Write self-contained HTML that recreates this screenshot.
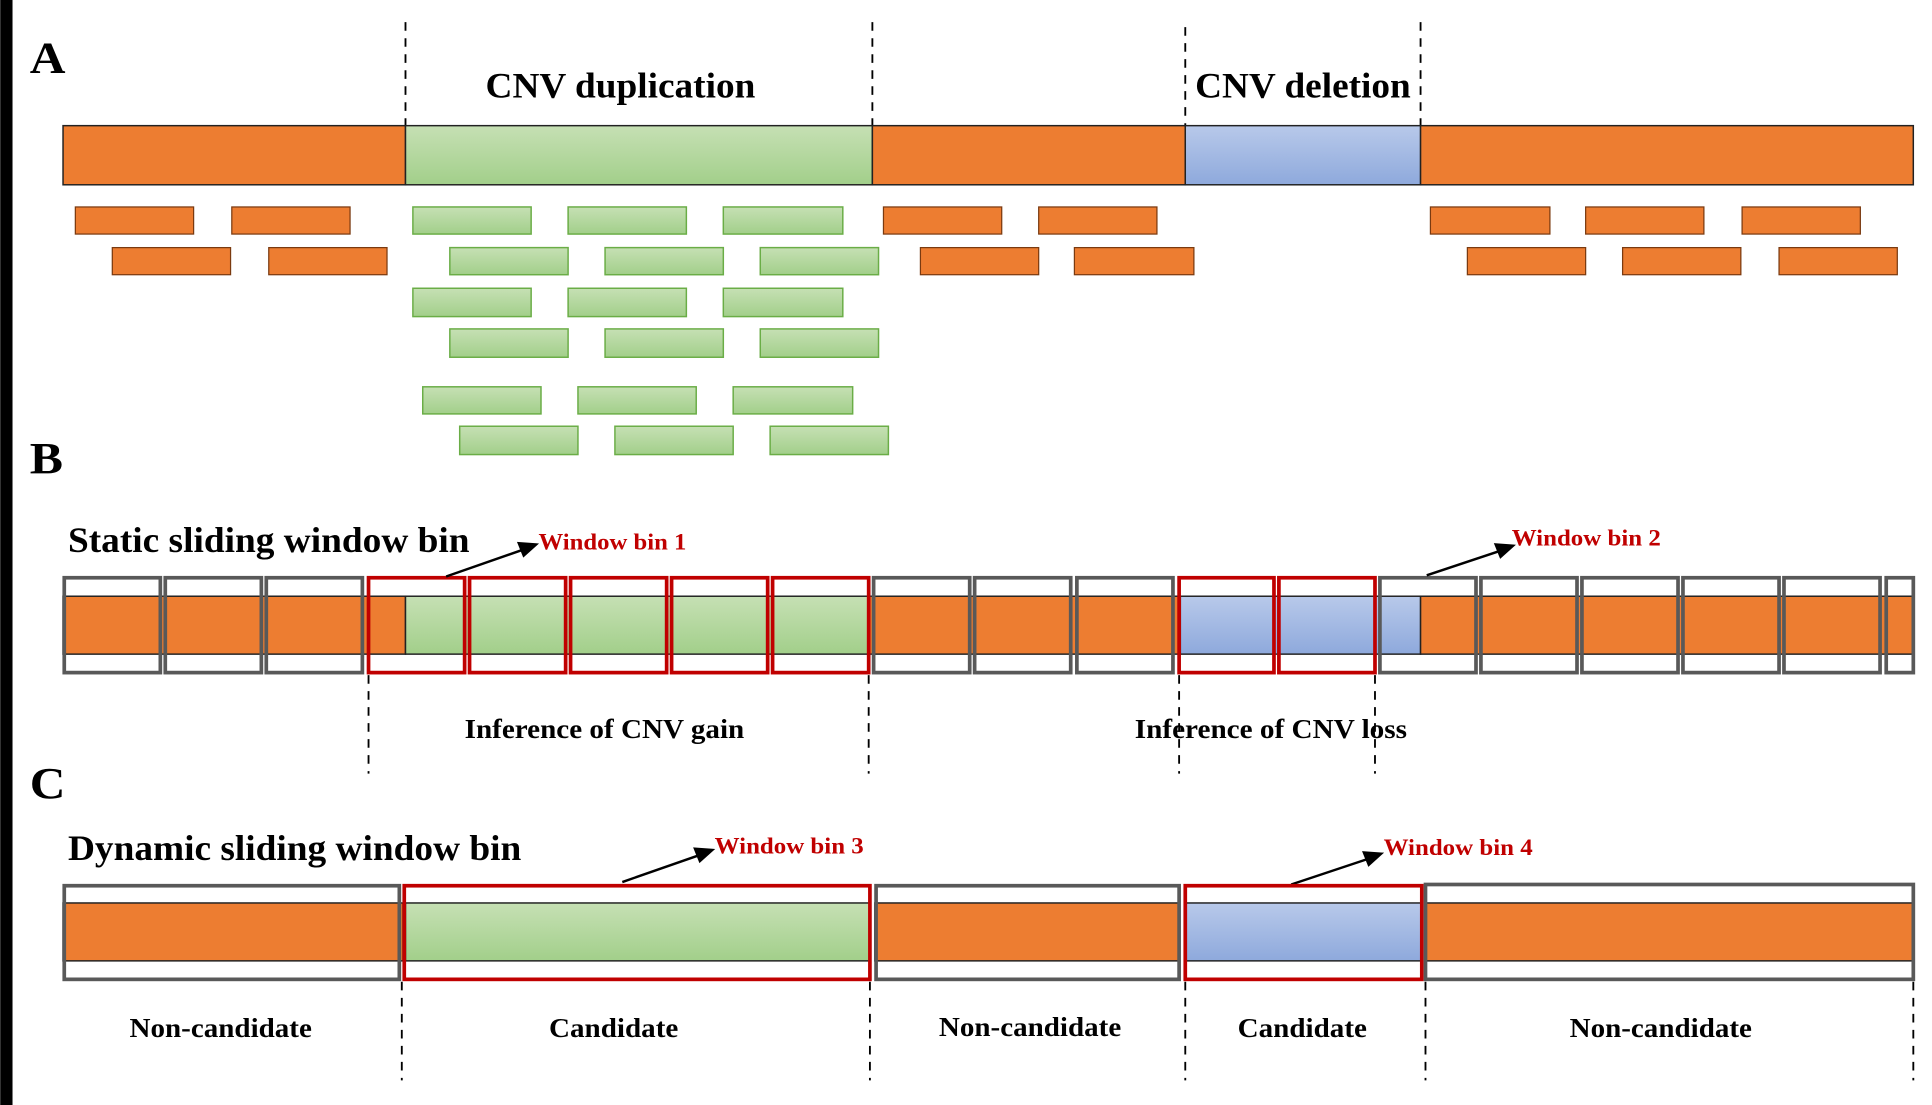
<!DOCTYPE html>
<html><head><meta charset="utf-8"><style>
html,body{margin:0;padding:0;background:#fff;}
svg{display:block;}
text{font-family:"Liberation Serif",serif;font-weight:bold;}
</style></head><body>
<svg width="1932" height="1105" viewBox="0 0 1568 897" xmlns="http://www.w3.org/2000/svg">
<defs>
<linearGradient id="g" x1="0" y1="0" x2="0" y2="1"><stop offset="0" stop-color="#c6e0b4"/><stop offset="1" stop-color="#a2cf8a"/></linearGradient>
<linearGradient id="b" x1="0" y1="0" x2="0" y2="1"><stop offset="0" stop-color="#b8c9ea"/><stop offset="1" stop-color="#8ea9dc"/></linearGradient>
</defs>
<rect x="0" y="0" width="10" height="897" fill="#000"/>
<!-- A -->
<text x="24" y="59" font-size="36" textLength="29" lengthAdjust="spacingAndGlyphs">A</text>
<text x="394" y="79" font-size="29" textLength="219" lengthAdjust="spacingAndGlyphs">CNV duplication</text>
<text x="970" y="79" font-size="29" textLength="175" lengthAdjust="spacingAndGlyphs">CNV deletion</text>
<g stroke="#000" stroke-width="1.5" stroke-dasharray="7,6">
<line x1="329" y1="18" x2="329" y2="102"/><line x1="708" y1="18" x2="708" y2="102"/>
<line x1="962" y1="22" x2="962" y2="102"/><line x1="1153" y1="18" x2="1153" y2="102"/>
</g>
<g stroke="#222" stroke-width="1.2">
<rect x="51" y="102" width="278" height="48" fill="#ed7d31"/>
<rect x="329" y="102" width="379" height="48" fill="url(#g)"/>
<rect x="708" y="102" width="254" height="48" fill="#ed7d31"/>
<rect x="962" y="102" width="191" height="48" fill="url(#b)"/>
<rect x="1153" y="102" width="400" height="48" fill="#ed7d31"/>
</g>
<g fill="#ed7d31" stroke="#7a3a10" stroke-width="1">
<rect x="61" y="168" width="96" height="22"/><rect x="188" y="168" width="96" height="22"/>
<rect x="717" y="168" width="96" height="22"/><rect x="843" y="168" width="96" height="22"/>
<rect x="1161" y="168" width="97" height="22"/><rect x="1287" y="168" width="96" height="22"/><rect x="1414" y="168" width="96" height="22"/>
<rect x="91" y="201" width="96" height="22"/><rect x="218" y="201" width="96" height="22"/>
<rect x="747" y="201" width="96" height="22"/><rect x="872" y="201" width="97" height="22"/>
<rect x="1191" y="201" width="96" height="22"/><rect x="1317" y="201" width="96" height="22"/><rect x="1444" y="201" width="96" height="22"/>
</g>
<g fill="url(#g)" stroke="#6aad46" stroke-width="1.2">
<rect x="335" y="168" width="96" height="22"/><rect x="461" y="168" width="96" height="22"/><rect x="587" y="168" width="97" height="22"/>
<rect x="365" y="201" width="96" height="22"/><rect x="491" y="201" width="96" height="22"/><rect x="617" y="201" width="96" height="22"/>
<rect x="335" y="234" width="96" height="23"/><rect x="461" y="234" width="96" height="23"/><rect x="587" y="234" width="97" height="23"/>
<rect x="365" y="267" width="96" height="23"/><rect x="491" y="267" width="96" height="23"/><rect x="617" y="267" width="96" height="23"/>
<rect x="343" y="314" width="96" height="22"/><rect x="469" y="314" width="96" height="22"/><rect x="595" y="314" width="97" height="22"/>
<rect x="373" y="346" width="96" height="23"/><rect x="499" y="346" width="96" height="23"/><rect x="625" y="346" width="96" height="23"/>
</g>
<!-- B -->
<text x="24" y="384" font-size="36" textLength="27" lengthAdjust="spacingAndGlyphs">B</text>
<text x="55" y="448" font-size="29" textLength="326" lengthAdjust="spacingAndGlyphs">Static sliding window bin</text>
<g stroke="#222" stroke-width="1.2">
<rect x="51" y="484" width="278" height="47" fill="#ed7d31"/>
<rect x="329" y="484" width="376" height="47" fill="url(#g)"/>
<rect x="705" y="484" width="253" height="47" fill="#ed7d31"/>
<rect x="958" y="484" width="195" height="47" fill="url(#b)"/>
<rect x="1153" y="484" width="400" height="47" fill="#ed7d31"/>
</g>
<g fill="none" stroke="#595959" stroke-width="3">
<rect x="52" y="469" width="78" height="77"/><rect x="134" y="469" width="78" height="77"/><rect x="216" y="469" width="78" height="77"/>
<rect x="709" y="469" width="78" height="77"/><rect x="791" y="469" width="78" height="77"/><rect x="874" y="469" width="78" height="77"/>
<rect x="1120" y="469" width="78" height="77"/><rect x="1202" y="469" width="78" height="77"/><rect x="1284" y="469" width="78" height="77"/>
<rect x="1366" y="469" width="78" height="77"/><rect x="1448" y="469" width="78" height="77"/><rect x="1531" y="469" width="22" height="77"/>
</g>
<g fill="none" stroke="#c00000" stroke-width="3">
<rect x="299" y="469" width="78" height="77"/><rect x="381" y="469" width="78" height="77"/><rect x="463" y="469" width="78" height="77"/>
<rect x="545" y="469" width="78" height="77"/><rect x="627" y="469" width="78" height="77"/>
<rect x="957" y="469" width="77" height="77"/><rect x="1038" y="469" width="78" height="77"/>
</g>
<g stroke="#000" stroke-width="1.5" stroke-dasharray="7,6">
<line x1="299" y1="548" x2="299" y2="628"/><line x1="705" y1="548" x2="705" y2="628"/>
<line x1="957" y1="548" x2="957" y2="628"/><line x1="1116" y1="548" x2="1116" y2="628"/>
</g>
<text x="377" y="599" font-size="22" textLength="227" lengthAdjust="spacingAndGlyphs">Inference of CNV gain</text>
<text x="921" y="599" font-size="22" textLength="221" lengthAdjust="spacingAndGlyphs">Inference of CNV loss</text>
<g stroke="#000" stroke-width="2" fill="#000">
<line x1="362" y1="468" x2="425" y2="446"/><polygon points="435,442 421,441 425,451"/>
<line x1="1158" y1="467" x2="1218" y2="447"/><polygon points="1228,443 1214,442 1218,452"/>
<line x1="505" y1="716" x2="568" y2="694"/><polygon points="578,690 564,689 568,699"/>
<line x1="1048" y1="718" x2="1111" y2="697"/><polygon points="1121,693 1107,692 1111,702"/>
</g>
<g fill="#c00000" font-size="19">
<text x="437" y="446" textLength="120" lengthAdjust="spacingAndGlyphs">Window bin 1</text>
<text x="1227" y="443" textLength="121" lengthAdjust="spacingAndGlyphs">Window bin 2</text>
<text x="580" y="693" textLength="121" lengthAdjust="spacingAndGlyphs">Window bin 3</text>
<text x="1123" y="694" textLength="121" lengthAdjust="spacingAndGlyphs">Window bin 4</text>
</g>
<!-- C -->
<text x="24" y="648" font-size="36" textLength="29" lengthAdjust="spacingAndGlyphs">C</text>
<text x="55" y="698" font-size="29" textLength="368" lengthAdjust="spacingAndGlyphs">Dynamic sliding window bin</text>
<g stroke="#222" stroke-width="1.2">
<rect x="51" y="733" width="276" height="47" fill="#ed7d31"/>
<rect x="329" y="733" width="377" height="47" fill="url(#g)"/>
<rect x="710" y="733" width="247" height="47" fill="#ed7d31"/>
<rect x="962" y="733" width="192" height="47" fill="url(#b)"/>
<rect x="1157" y="733" width="396" height="47" fill="#ed7d31"/>
</g>
<g fill="none" stroke-width="3">
<rect x="52" y="719" width="272" height="76" stroke="#595959"/>
<rect x="328" y="719" width="378" height="76" stroke="#c00000"/>
<rect x="711" y="719" width="246" height="76" stroke="#595959"/>
<rect x="962" y="719" width="192" height="76" stroke="#c00000"/>
<rect x="1157" y="718" width="396" height="77" stroke="#595959"/>
</g>
<g stroke="#000" stroke-width="1.5" stroke-dasharray="7,6">
<line x1="326" y1="797" x2="326" y2="877"/><line x1="706" y1="797" x2="706" y2="877"/>
<line x1="962" y1="797" x2="962" y2="877"/><line x1="1157" y1="797" x2="1157" y2="877"/>
<line x1="1553" y1="797" x2="1553" y2="877"/>
</g>
<g font-size="22" text-anchor="middle">
<text x="179" y="842" textLength="148" lengthAdjust="spacingAndGlyphs">Non-candidate</text>
<text x="498" y="842" textLength="105" lengthAdjust="spacingAndGlyphs">Candidate</text>
<text x="836" y="841" textLength="148" lengthAdjust="spacingAndGlyphs">Non-candidate</text>
<text x="1057" y="842" textLength="105" lengthAdjust="spacingAndGlyphs">Candidate</text>
<text x="1348" y="842" textLength="148" lengthAdjust="spacingAndGlyphs">Non-candidate</text>
</g>
</svg>
</body></html>
